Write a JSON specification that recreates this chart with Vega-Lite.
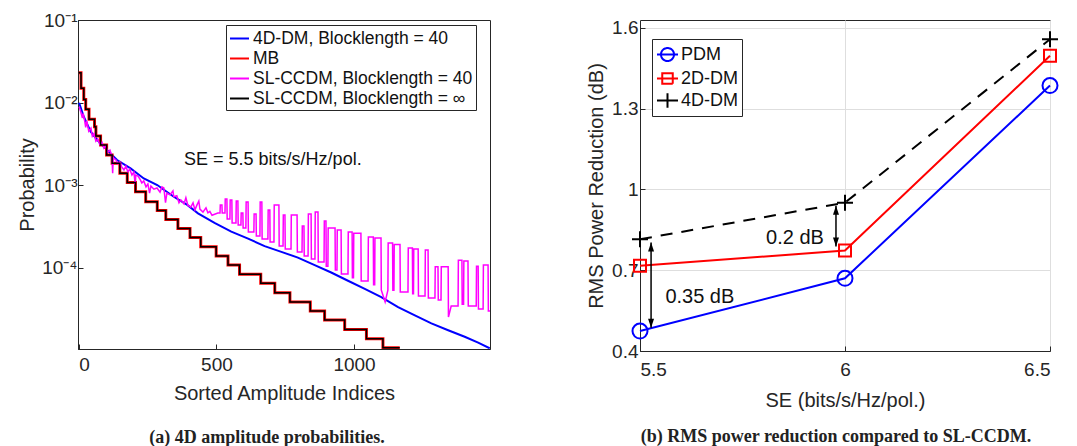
{
  "$schema": "https://vega.github.io/schema/vega-lite/v6.json",
  "background": "white",
  "padding": {"left": 17, "top": 10, "right": 0, "bottom": 0},
  "config": {
    "font": "Liberation Sans",
    "view": {"stroke": "#262626", "strokeWidth": 1},
    "axis": {
      "labelFont": "Liberation Sans", "titleFont": "Liberation Sans",
      "labelFontSize": 19, "titleFontSize": 20, "titleFontWeight": "normal",
      "labelColor": "#262626", "titleColor": "#262626",
      "domainColor": "#262626", "tickColor": "#262626", "tickSize": -5
    },
    "legend": {"labelFont": "Liberation Sans", "labelColor": "#111", "labelLimit": 400}
  },
  "datasets": {
    "dm4d": [{"x":1,"p":0.00995},{"x":18,"p":0.00673},{"x":43,"p":0.00443},{"x":73,"p":0.00335},{"x":103,"p":0.00265},{"x":139,"p":0.00201},{"x":188,"p":0.00159},{"x":236,"p":0.0012},{"x":285,"p":0.001},{"x":345,"p":0.000721},{"x":394,"p":0.000575},{"x":433,"p":0.000454},{"x":493,"p":0.000347},{"x":554,"p":0.000272},{"x":615,"p":0.000224},{"x":675,"p":0.000182},{"x":736,"p":0.000155},{"x":796,"p":0.000132},{"x":857,"p":0.000107},{"x":917,"p":0.0000871},{"x":978,"p":0.0000692},{"x":1039,"p":0.000055},{"x":1099,"p":0.0000437},{"x":1160,"p":0.0000331},{"x":1221,"p":0.0000263},{"x":1281,"p":0.0000211},{"x":1342,"p":0.0000174},{"x":1402,"p":0.0000145},{"x":1451,"p":0.0000123},{"x":1493,"p":0.0000105}],
    "stair": [{"x":0,"p":0.023},{"x":8,"p":0.0149},{"x":18,"p":0.0109},{"x":25,"p":0.00828},{"x":37,"p":0.00625},{"x":57,"p":0.00509},{"x":62,"p":0.00393},{"x":79,"p":0.00305},{"x":101,"p":0.00231},{"x":121,"p":0.00183},{"x":149,"p":0.00139},{"x":176,"p":0.00107},{"x":206,"p":0.00083},{"x":243,"p":0.000628},{"x":285,"p":0.000491},{"x":316,"p":0.000382},{"x":360,"p":0.000297},{"x":404,"p":0.000232},{"x":443,"p":0.000179},{"x":499,"p":0.000138},{"x":542,"p":0.000107},{"x":584,"p":0.0000827},{"x":661,"p":0.0000643},{"x":712,"p":0.0000495},{"x":767,"p":0.0000382},{"x":841,"p":0.0000297},{"x":893,"p":0.0000231},{"x":966,"p":0.0000178},{"x":1045,"p":0.0000137},{"x":1105,"p":0.0000107},{"x":1166,"p":0.0000107}],
    "ccdm40": [{"x":1,"p":0.0089},{"x":7,"p":0.0077},{"x":13,"p":0.0065},{"x":16,"p":0.0074},{"x":22,"p":0.0058},{"x":25,"p":0.005},{"x":29,"p":0.006},{"x":36,"p":0.0045},{"x":44,"p":0.0049},{"x":49,"p":0.0039},{"x":55,"p":0.0042},{"x":62,"p":0.0034},{"x":69,"p":0.0036},{"x":76,"p":0.0031},{"x":84,"p":0.0033},{"x":91,"p":0.0028},{"x":98,"p":0.003},{"x":105,"p":0.0025},{"x":113,"p":0.00265},{"x":120,"p":0.00225},{"x":123,"p":0.00139},{"x":125,"p":0.00213},{"x":135,"p":0.00201},{"x":142,"p":0.0018},{"x":149,"p":0.0019},{"x":156,"p":0.00166},{"x":164,"p":0.00152},{"x":171,"p":0.0017},{"x":178,"p":0.00144},{"x":185,"p":0.00156},{"x":193,"p":0.00132},{"x":200,"p":0.00144},{"x":205,"p":0.001},{"x":207,"p":0.00132},{"x":215,"p":0.00128},{"x":222,"p":0.00118},{"x":229,"p":0.00106},{"x":236,"p":0.00112},{"x":244,"p":0.00095},{"x":251,"p":0.00103},{"x":257,"p":0.0008},{"x":262,"p":0.00097},{"x":273,"p":0.00089},{"x":284,"p":0.00092},{"x":295,"p":0.00082},{"x":302,"p":0.00095},{"x":309,"p":0.00092},{"x":315,"p":0.00061},{"x":320,"p":0.0008},{"x":331,"p":0.00076},{"x":342,"p":0.00085},{"x":345,"p":0.00072},{"x":356,"p":0.00074},{"x":364,"p":0.00061},{"x":371,"p":0.00066},{"x":382,"p":0.00059},{"x":389,"p":0.0007},{"x":396,"p":0.00057},{"x":407,"p":0.00054},{"x":415,"p":0.00061},{"x":422,"p":0.0005},{"x":429,"p":0.00057},{"x":436,"p":0.00064},{"x":440,"p":0.00051},{"x":451,"p":0.00047},{"x":462,"p":0.00053},{"x":469,"p":0.00046},{"x":476,"p":0.00048},{"x":484,"p":0.00043},{"x":505,"p":0.000458},{"x":513,"p":0.000458},{"x":514,"p":0.000572},{"x":520,"p":0.000572},{"x":521,"p":0.000458},{"x":531,"p":0.000458},{"x":532,"p":0.000677},{"x":538,"p":0.000677},{"x":539,"p":0.000387},{"x":549,"p":0.000387},{"x":550,"p":0.000658},{"x":556,"p":0.000658},{"x":557,"p":0.000346},{"x":571,"p":0.000346},{"x":572,"p":0.00064},{"x":578,"p":0.00064},{"x":579,"p":0.000327},{"x":589,"p":0.000327},{"x":590,"p":0.000458},{"x":596,"p":0.000458},{"x":597,"p":0.000301},{"x":607,"p":0.000301},{"x":608,"p":0.000622},{"x":615,"p":0.000622},{"x":616,"p":0.000269},{"x":636,"p":0.000269},{"x":637,"p":0.000445},{"x":644,"p":0.000445},{"x":645,"p":0.000241},{"x":658,"p":0.000241},{"x":659,"p":0.000622},{"x":665,"p":0.000622},{"x":666,"p":0.000222},{"x":687,"p":0.000222},{"x":688,"p":0.000498},{"x":694,"p":0.000498},{"x":695,"p":0.000204},{"x":709,"p":0.000204},{"x":710,"p":0.000572},{"x":727,"p":0.000572},{"x":728,"p":0.000182},{"x":742,"p":0.000182},{"x":743,"p":0.000433},{"x":749,"p":0.000433},{"x":750,"p":0.000168},{"x":771,"p":0.000168},{"x":772,"p":0.000433},{"x":793,"p":0.000433},{"x":794,"p":0.000154},{"x":811,"p":0.000154},{"x":812,"p":0.000318},{"x":818,"p":0.000318},{"x":819,"p":0.000138},{"x":833,"p":0.000138},{"x":834,"p":0.000445},{"x":844,"p":0.000445},{"x":845,"p":0.000127},{"x":858,"p":0.000127},{"x":859,"p":0.000471},{"x":869,"p":0.000471},{"x":870,"p":0.000117},{"x":891,"p":0.000117},{"x":892,"p":0.000366},{"x":898,"p":0.000366},{"x":899,"p":0.000104},{"x":905,"p":0.000104},{"x":906,"p":0.000301},{"x":931,"p":0.000301},{"x":932,"p":0.0000933},{"x":938,"p":0.0000933},{"x":939,"p":0.000285},{"x":953,"p":0.000285},{"x":954,"p":0.0000835},{"x":978,"p":0.0000835},{"x":979,"p":0.000269},{"x":993,"p":0.000269},{"x":994,"p":0.000075},{"x":998,"p":0.000075},{"x":999,"p":0.00026},{"x":1025,"p":0.00026},{"x":1026,"p":0.0000686},{"x":1051,"p":0.0000686},{"x":1052,"p":0.000234},{"x":1070,"p":0.000234},{"x":1071,"p":0.000062},{"x":1075,"p":0.000062},{"x":1076,"p":0.000228},{"x":1098,"p":0.000228},{"x":1099,"p":0.0000533},{"x":1113,"p":0.0000382},{"x":1123,"p":0.0000533},{"x":1124,"p":0.000198},{"x":1140,"p":0.000198},{"x":1141,"p":0.000053},{"x":1145,"p":0.000053},{"x":1146,"p":0.00019},{"x":1167,"p":0.00019},{"x":1168,"p":0.0000504},{"x":1196,"p":0.0000504},{"x":1197,"p":0.000172},{"x":1212,"p":0.000172},{"x":1213,"p":0.000048},{"x":1216,"p":0.000048},{"x":1217,"p":0.000168},{"x":1233,"p":0.000168},{"x":1234,"p":0.0000451},{"x":1258,"p":0.0000451},{"x":1259,"p":0.000163},{"x":1269,"p":0.000163},{"x":1270,"p":0.0000427},{"x":1294,"p":0.0000427},{"x":1295,"p":0.000102},{"x":1305,"p":0.000102},{"x":1306,"p":0.0000404},{"x":1316,"p":0.0000404},{"x":1317,"p":0.000102},{"x":1342,"p":0.000102},{"x":1343,"p":0.0000251},{"x":1353,"p":0.0000341},{"x":1378,"p":0.0000341},{"x":1379,"p":0.000123},{"x":1392,"p":0.000123},{"x":1393,"p":0.000036},{"x":1398,"p":0.000036},{"x":1399,"p":0.00012},{"x":1414,"p":0.00012},{"x":1415,"p":0.0000341},{"x":1444,"p":0.0000341},{"x":1445,"p":0.000104},{"x":1451,"p":0.000104},{"x":1452,"p":0.0000314},{"x":1469,"p":0.0000314},{"x":1470,"p":0.000107},{"x":1487,"p":0.000107},{"x":1488,"p":0.0000297},{"x":1494,"p":0.0000297}],
    "rms": [
      {"series":"PDM","se":5.5,"val":0.474},{"series":"PDM","se":6,"val":0.67},{"series":"PDM","se":6.5,"val":1.386},
      {"series":"2D-DM","se":5.5,"val":0.717},{"series":"2D-DM","se":6,"val":0.773},{"series":"2D-DM","se":6.5,"val":1.497},
      {"series":"4D-DM","se":5.5,"val":0.815},{"series":"4D-DM","se":6,"val":0.951},{"series":"4D-DM","se":6.5,"val":1.558}
    ],
    "arrows": [{"se":5.527,"top":0.803,"bottom":0.486},{"se":5.978,"top":0.94,"bottom":0.788}],
    "notes": [{"se":5.646,"v":0.602,"t":"0.35 dB"},{"se":5.878,"v":0.82,"t":"0.2 dB"}]
  },
  "spacing": 95,
  "resolve": {"scale": {"color": "independent", "shape": "independent", "strokeDash": "independent"}, "legend": {"color": "independent"}},
  "hconcat": [
    {
      "width": 412,
      "height": 329,
      "title": {"text": "(a) 4D amplitude probabilities.", "orient": "bottom", "font": "Liberation Serif", "fontSize": 18, "fontWeight": "bold", "color": "#222", "offset": 25, "frame": "group", "dx": -17},
      "layer": [
        {
          "data": {"name": "dm4d"},
          "mark": {"type": "line", "strokeWidth": 2, "clip": true},
          "encoding": {
            "x": {"field": "x", "type": "quantitative", "scale": {"domain": [-3, 1494], "nice": false, "zero": false},
                  "axis": {"title": "Sorted Amplitude Indices", "values": [0, 500, 1000], "format": "d", "grid": false, "labelPadding": 11.5, "titlePadding": 9}},
            "y": {"field": "p", "type": "quantitative", "scale": {"type": "log", "domain": [0.0000103, 0.1], "nice": false},
                  "axis": {"title": "Probability", "values": [0.0001, 0.001, 0.01, 0.1], "grid": false, "labelPadding": 6, "titlePadding": 4,
                           "labelExpr": "datum.value > 0.05 ? '10⁻¹' : datum.value > 0.005 ? '10⁻²' : datum.value > 0.0005 ? '10⁻³' : '10⁻⁴'"}},
            "color": {"datum": "4D-DM, Blocklength = 40", "type": "nominal",
                      "scale": {"domain": ["4D-DM, Blocklength = 40", "MB", "SL-CCDM, Blocklength = 40", "SL-CCDM, Blocklength = ∞"], "range": ["#0000ff", "#ff0000", "#ff00ff", "#000000"]},
                      "legend": {"title": null, "orient": "none", "legendX": 148, "legendY": 5, "strokeColor": "#262626", "fillColor": "white", "padding": 3,
                                 "labelFontSize": 17.5, "symbolType": "stroke", "symbolSize": 361, "symbolStrokeWidth": 2, "labelOffset": 3, "rowPadding": 1, "labelLimit": 400}}
          }
        },
        {
          "data": {"name": "stair"},
          "mark": {"type": "line", "strokeWidth": 3, "interpolate": "step-after", "clip": true},
          "encoding": {
            "x": {"field": "x", "type": "quantitative"},
            "y": {"field": "p", "type": "quantitative"},
            "color": {"datum": "MB", "type": "nominal"}
          }
        },
        {
          "data": {"name": "ccdm40"},
          "mark": {"type": "line", "strokeWidth": 1.5, "clip": true},
          "encoding": {
            "x": {"field": "x", "type": "quantitative"},
            "y": {"field": "p", "type": "quantitative"},
            "color": {"datum": "SL-CCDM, Blocklength = 40", "type": "nominal"}
          }
        },
        {
          "data": {"name": "stair"},
          "mark": {"type": "line", "strokeWidth": 1.5, "interpolate": "step-after", "clip": true},
          "encoding": {
            "x": {"field": "x", "type": "quantitative"},
            "y": {"field": "p", "type": "quantitative"},
            "color": {"datum": "SL-CCDM, Blocklength = ∞", "type": "nominal"}
          }
        },
        {
          "data": {"values": [{"x": 705, "p": 0.002, "t": "SE = 5.5 bits/s/Hz/pol."}]},
          "mark": {"type": "text", "fontSize": 18, "font": "Liberation Sans", "color": "#111", "align": "center", "baseline": "middle"},
          "encoding": {
            "x": {"field": "x", "type": "quantitative"},
            "y": {"field": "p", "type": "quantitative"},
            "text": {"field": "t"}
          }
        }
      ]
    },
    {
      "width": 410,
      "height": 331,
      "title": {"text": "(b) RMS power reduction compared to SL-CCDM.", "orient": "bottom", "font": "Liberation Serif", "fontSize": 18, "fontWeight": "bold", "color": "#222", "offset": 18, "frame": "group", "dx": -9},
      "layer": [
        {
          "data": {"name": "rms"},
          "transform": [{"filter": "datum.series !== '4D-DM'"}],
          "mark": {"type": "line", "strokeWidth": 2},
          "encoding": {
            "x": {"field": "se", "type": "quantitative", "scale": {"domain": [5.5, 6.5], "nice": false, "zero": false},
                  "axis": {"title": "SE (bits/s/Hz/pol.)", "values": [5.5, 6, 6.5], "grid": true, "gridColor": "#dedede", "labelPadding": 14, "titlePadding": 11,
                           "labelExpr": "datum.value == 6 ? '6' : format(datum.value, '.1f')"}},
            "y": {"field": "val", "type": "quantitative", "scale": {"domain": [0.4, 1.6297], "nice": false, "zero": false},
                  "axis": {"title": "RMS Power Reduction (dB)", "values": [0.4, 0.7, 1, 1.3, 1.6], "grid": true, "gridColor": "#dedede", "labelPadding": 7, "titlePadding": 5,
                           "labelExpr": "datum.value == 1 ? '1' : format(datum.value, '.1f')"}},
            "color": {"field": "series", "type": "nominal",
                      "scale": {"domain": ["PDM", "2D-DM", "4D-DM"], "range": ["#0000ff", "#ff0000", "#000000"]},
                      "legend": {"title": null, "orient": "none", "legendX": 12, "legendY": 19, "strokeColor": "#262626", "fillColor": "white", "padding": 4,
                                 "labelFontSize": 18, "symbolSize": 441, "symbolStrokeWidth": 2, "labelOffset": 2, "rowPadding": 1,
                                 "encode": {"symbols": {"update": {
                                   "fill": {"value": "transparent"},
                                   "strokeDash": {"value": [1, 0]},
                                   "shape": {"signal": "datum.value === 'PDM' ? 'M-1,0H1M0.62,0A0.62,0.62,0,1,1,-0.62,0A0.62,0.62,0,1,1,0.62,0' : datum.value === '2D-DM' ? 'M-1,0H1M-0.5,-0.5H0.5V0.5H-0.5Z' : 'M-1,0H1M0,-0.68V0.68'"}
                                 }}}}}
          }
        },
        {
          "data": {"name": "rms"},
          "transform": [{"filter": "datum.series === '4D-DM'"}],
          "mark": {"type": "line", "strokeWidth": 2, "strokeDash": [12, 9]},
          "encoding": {
            "x": {"field": "se", "type": "quantitative"},
            "y": {"field": "val", "type": "quantitative"},
            "color": {"field": "series", "type": "nominal"}
          }
        },
        {
          "data": {"name": "rms"},
          "transform": [{"filter": "datum.series === 'PDM'"}],
          "mark": {"type": "point", "filled": false, "strokeWidth": 2, "size": 400, "opacity": 1, "color": "#0000ff",
                   "shape": "M0.75,0A0.75,0.75,0,1,1,-0.75,0A0.75,0.75,0,1,1,0.75,0Z"},
          "encoding": {
            "x": {"field": "se", "type": "quantitative"},
            "y": {"field": "val", "type": "quantitative"}
          }
        },
        {
          "data": {"name": "rms"},
          "transform": [{"filter": "datum.series === '2D-DM'"}],
          "mark": {"type": "point", "filled": false, "strokeWidth": 2, "size": 400, "opacity": 1, "color": "#ff0000",
                   "shape": "M-0.6,-0.6H0.6V0.6H-0.6Z"},
          "encoding": {
            "x": {"field": "se", "type": "quantitative"},
            "y": {"field": "val", "type": "quantitative"}
          }
        },
        {
          "data": {"name": "rms"},
          "transform": [{"filter": "datum.series === '4D-DM'"}],
          "mark": {"type": "point", "filled": false, "strokeWidth": 2, "size": 400, "opacity": 1, "color": "#000000",
                   "shape": "M-0.8,0H0.8M0,-0.8V0.8"},
          "encoding": {
            "x": {"field": "se", "type": "quantitative"},
            "y": {"field": "val", "type": "quantitative"}
          }
        },
        {
          "data": {"name": "arrows"},
          "mark": {"type": "rule", "color": "black", "strokeWidth": 1.5},
          "encoding": {
            "x": {"field": "se", "type": "quantitative"},
            "y": {"field": "top", "type": "quantitative"},
            "y2": {"field": "bottom"}
          }
        },
        {
          "data": {"name": "arrows"},
          "mark": {"type": "point", "shape": "M0,0L-0.6,1.8L0.6,1.8Z", "filled": true, "color": "black", "size": 100, "opacity": 1},
          "encoding": {
            "x": {"field": "se", "type": "quantitative"},
            "y": {"field": "top", "type": "quantitative"}
          }
        },
        {
          "data": {"name": "arrows"},
          "mark": {"type": "point", "shape": "M0,0L-0.6,-1.8L0.6,-1.8Z", "filled": true, "color": "black", "size": 100, "opacity": 1},
          "encoding": {
            "x": {"field": "se", "type": "quantitative"},
            "y": {"field": "bottom", "type": "quantitative"}
          }
        },
        {
          "data": {"name": "notes"},
          "mark": {"type": "text", "fontSize": 20, "font": "Liberation Sans", "color": "#111", "align": "center", "baseline": "middle"},
          "encoding": {
            "x": {"field": "se", "type": "quantitative"},
            "y": {"field": "v", "type": "quantitative"},
            "text": {"field": "t"}
          }
        }
      ]
    }
  ]
}
